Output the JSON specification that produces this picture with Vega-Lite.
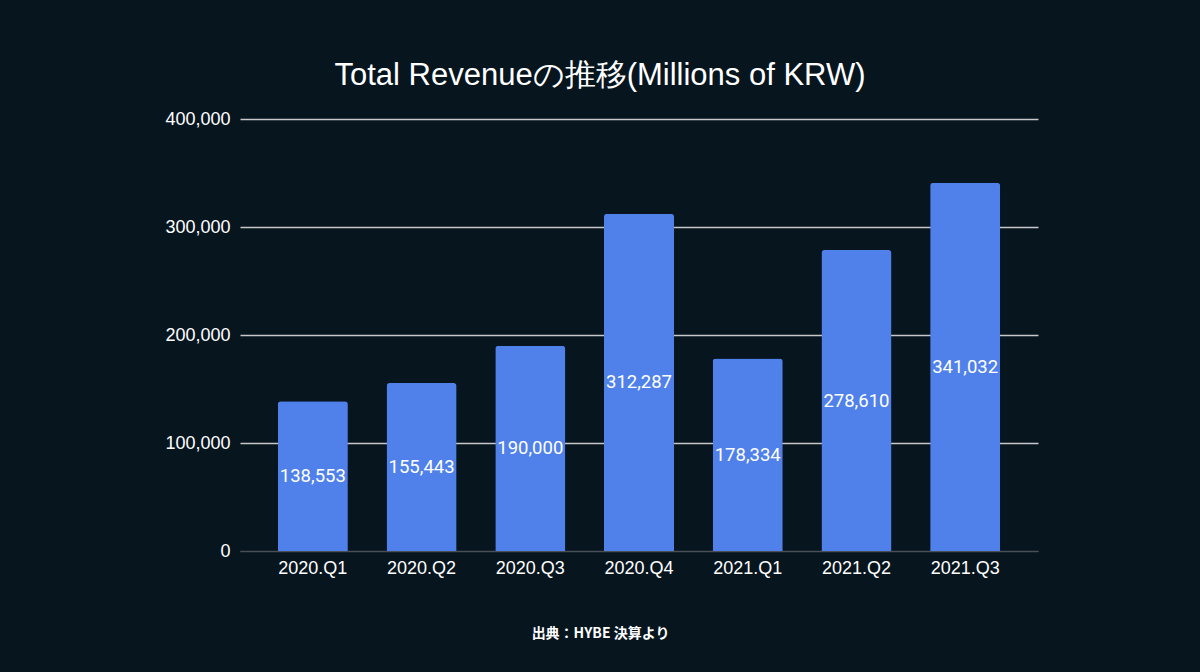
{
  "$schema": "https://vega.github.io/schema/vega-lite/v6.json",
  "width": 798,
  "height": 432,
  "autosize": "none",
  "padding": {"left": 240, "top": 119, "right": 162, "bottom": 121},
  "background": "#07151f",
  "config": {"view": {"stroke": null}},
  "title": {
    "text": "Total Revenueの推移(Millions of KRW)",
    "color": "#ffffff",
    "fontSize": 31,
    "font": "Liberation Sans",
    "fontWeight": "normal",
    "frame": "group",
    "anchor": "middle",
    "dx": -39,
    "offset": 18
  },
  "data": {
    "values": [
      {"quarter": "2020.Q1", "value": 138553},
      {"quarter": "2020.Q2", "value": 155443},
      {"quarter": "2020.Q3", "value": 190000},
      {"quarter": "2020.Q4", "value": 312287},
      {"quarter": "2021.Q1", "value": 178334},
      {"quarter": "2021.Q2", "value": 278610},
      {"quarter": "2021.Q3", "value": 341032}
    ]
  },
  "encoding": {
    "x": {
      "field": "quarter",
      "type": "nominal",
      "sort": null,
      "scale": {"paddingInner": 0.356, "paddingOuter": 0.348},
      "axis": {
        "title": "出典：HYBE 決算より",
        "titleFont": "Noto Sans CJK JP",
        "titleFontSize": 14,
        "titleFontWeight": "bold",
        "titleColor": "#ffffff",
        "titleX": 360,
        "titleY": 82,
        "titleBaseline": "middle",
        "labelAngle": 0,
        "labelFont": "Liberation Sans",
        "labelFontSize": 18,
        "labelColor": "#ffffff",
        "labelPadding": 8,
        "ticks": false,
        "domainColor": "#4a4f55",
        "domainWidth": 1
      }
    }
  },
  "layer": [
    {
      "mark": {"type": "bar", "color": "#5081ea", "cornerRadiusTopLeft": 3, "cornerRadiusTopRight": 3},
      "encoding": {
        "y": {
          "field": "value",
          "type": "quantitative",
          "scale": {"domain": [0, 400000]},
          "axis": {
            "title": null,
            "values": [0, 100000, 200000, 300000, 400000],
            "format": ",.0f",
            "labelFont": "Liberation Sans",
            "labelFontSize": 18,
            "labelColor": "#ffffff",
            "labelPadding": 10,
            "ticks": false,
            "domain": false,
            "gridColor": {"condition": {"test": "datum.value === 0", "value": "#4a4f55"}, "value": "#c8c8c8"},
            "gridWidth": 1.3
          }
        }
      }
    },
    {
      "mark": {"type": "text", "color": "#ffffff", "font": "Roboto", "fontSize": 18.5, "baseline": "middle", "align": "center"},
      "encoding": {
        "y": {
          "field": "value",
          "type": "quantitative",
          "scale": {"domain": [0, 800000]},
          "axis": null
        },
        "text": {"field": "value", "type": "quantitative", "format": ",.0f"}
      }
    }
  ],
  "resolve": {"scale": {"y": "independent"}}
}
